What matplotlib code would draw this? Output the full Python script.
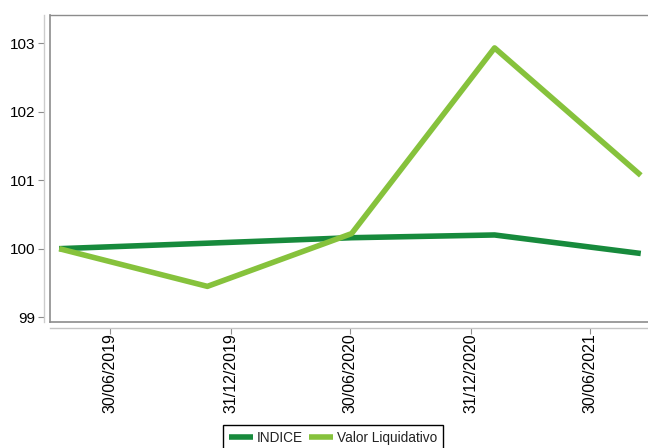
import matplotlib
matplotlib.use("Agg")
import matplotlib.pyplot as plt
import matplotlib.dates as mdates
from datetime import date

# dados
datas = [date(2019, 4, 13), date(2019, 11, 25), date(2020, 7, 2),
         date(2021, 2, 5), date(2021, 9, 16)]
indice = [100.0, 100.08, 100.16, 100.20, 99.93]
valor_liq = [100.0, 99.45, 100.22, 102.93, 101.07]
ticks_x = [date(2019, 6, 30), date(2019, 12, 31), date(2020, 6, 30),
           date(2020, 12, 31), date(2021, 6, 30)]
ticks_y = [99, 100, 101, 102, 103]

cor_indice = "#178a3c"
cor_valor = "#86c23c"
cinza = "#8c8c8c"

plt.rcParams["font.family"] = ["Liberation Sans", "DejaVu Sans"]

fig = plt.figure(figsize=(6.48, 4.48), dpi=100)
ax = fig.add_axes([50 / 648, 1 - 322 / 448, 598 / 648, 307 / 448])

ax.plot(datas, indice, color=cor_indice, lw=4, label="INDICE", solid_capstyle="butt")
ax.plot(datas, valor_liq, color=cor_valor, lw=4, label="Valor Liquidativo", solid_capstyle="butt")

ax.set_ylim(98.93, 103.41)
ax.set_xlim(date(2019, 3, 30), date(2021, 9, 27))
ax.set_yticks(ticks_y)
ax.set_xticks(ticks_x)
ax.xaxis.set_major_formatter(mdates.DateFormatter("%d/%m/%Y"))
ax.tick_params(axis="x", rotation=90, labelsize=11.5, length=4, color=cinza, pad=0)
ax.tick_params(axis="y", labelsize=11, length=4, color=cinza, pad=2)
for lab in ax.get_xticklabels() + ax.get_yticklabels():
    lab.set_color("#333333")

# moldura cinzenta + eixos deslocados
for s in ["left", "bottom", "top"]:
    ax.spines[s].set_color(cinza)
    ax.spines[s].set_linewidth(1.0)
ax.spines["right"].set_visible(False)
ax.spines["left"].set_position(("outward", 4.3))
ax.spines["bottom"].set_position(("outward", 4.3))
ax.spines["left"].set_color("#cccccc")
ax.spines["bottom"].set_color("#c4c4c4")
ax.plot([0, 0], [0, 1], transform=ax.transAxes, color=cinza, lw=1.2, clip_on=False)
ax.plot([0, 1], [0, 0], transform=ax.transAxes, color=cinza, lw=1.2, clip_on=False)

leg = fig.legend(loc="lower center", bbox_to_anchor=(333 / 648, -0.02), ncol=2,
                 frameon=True, fancybox=False, edgecolor="black", framealpha=1,
                 handlelength=1.8, handletextpad=0.3, columnspacing=0.4,
                 borderpad=0.4, prop={"size": 9.8})
leg.get_frame().set_linewidth(1.0)
for t in leg.get_texts():
    t.set_color("#222222")

fig.savefig("out.png", dpi=100)
